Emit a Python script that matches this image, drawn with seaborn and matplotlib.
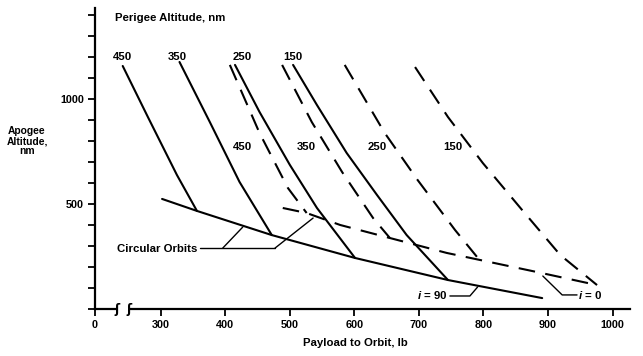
import numpy as np
import pandas as pd
import seaborn as sns
import matplotlib.pyplot as plt

# perigee curves, i = 90 (solid)
p450_solid_x = [241, 280, 325, 356]
p450_solid_y = [1157, 914, 638, 467]
p350_solid_x = [329, 376, 422, 472]
p350_solid_y = [1176, 890, 605, 352]
p250_solid_x = [415, 453, 500, 542, 601]
p250_solid_y = [1162, 938, 686, 481, 243]
p150_solid_x = [505, 542, 588, 635, 681, 745]
p150_solid_y = [1162, 971, 743, 543, 352, 138]
circ90_x = [302, 356, 472, 601, 745, 891]
circ90_y = [524, 467, 352, 243, 138, 52]

# perigee curves, i = 0 (dashed)
p450_dash_x = [407, 453, 497, 526]
p450_dash_y = [1162, 838, 576, 457]
p350_dash_x = [488, 534, 581, 629, 655]
p350_dash_y = [1162, 890, 652, 433, 338]
p250_dash_x = [585, 647, 698, 756, 790]
p250_dash_y = [1162, 838, 614, 376, 248]
p150_dash_x = [694, 745, 799, 860, 919, 976]
p150_dash_y = [1152, 914, 695, 471, 257, 114]
circ0_x = [489, 526, 578, 655, 743, 883, 976]
circ0_y = [481, 457, 400, 338, 267, 176, 114]

solid_labels = ["450", "350", "250", "150"]
solid_label_x = [240, 326, 426, 505]
dash_labels = ["450", "350", "250", "150"]
dash_label_x = [427, 526, 635, 753]

x_ticks = [198, 300, 400, 500, 600, 700, 800, 900, 1000]
x_ticklabels = ["0", "300", "400", "500", "600", "700", "800", "900", "1000"]
y_ticks = list(range(0, 1500, 100))
y_ticklabels = ["500" if v == 500 else "1000" if v == 1000 else "" for v in y_ticks]

sns.set_theme(style="ticks")
plt.rcParams['font.family'] = ['Liberation Sans', 'DejaVu Sans']
plt.rcParams['font.weight'] = 'bold'
plt.rcParams['text.color'] = 'black'
plt.rcParams['axes.labelcolor'] = 'black'
plt.rcParams['mathtext.fontset'] = 'custom'
plt.rcParams['mathtext.it'] = 'Liberation Sans:italic:bold'

fig = plt.figure(figsize=(6.43, 3.56), dpi=100)
ax = fig.add_axes([0.1477, 0.132, 0.832, 0.8455])

lw = 1.5
for xs, ys in [(p450_solid_x, p450_solid_y), (p350_solid_x, p350_solid_y),
               (p250_solid_x, p250_solid_y), (p150_solid_x, p150_solid_y),
               (circ90_x, circ90_y)]:
    sns.lineplot(x=xs, y=ys, ax=ax, color="black", lw=lw)

for xs, ys in [(p450_dash_x, p450_dash_y), (p350_dash_x, p350_dash_y),
               (p250_dash_x, p250_dash_y), (p150_dash_x, p150_dash_y),
               (circ0_x, circ0_y)]:
    sns.lineplot(x=xs, y=ys, ax=ax, color="black", lw=lw, linestyle=(0, (8, 5)))

ax.set_xlim(198, 1027)
ax.set_ylim(0, 1433)
ax.set_xticks(x_ticks)
ax.set_xticklabels(x_ticklabels)
ax.set_yticks(y_ticks)
ax.set_yticklabels(y_ticklabels)
ax.tick_params(axis="both", length=5, width=1.3, labelsize=7.8, color="black",
               labelcolor="black", pad=3)
for s in ["top", "right"]:
    ax.spines[s].set_visible(False)
for s in ["left", "bottom"]:
    ax.spines[s].set_linewidth(1.6)
    ax.spines[s].set_color("black")
ax.set_xlabel("")
ax.set_ylabel("")

fs = 8.2
ax.text(229, 1386, "Perigee Altitude, nm", fontsize=fs, ha="left", va="center")
for lab, x in zip(solid_labels, solid_label_x):
    ax.text(x, 1200, lab, fontsize=fs, ha="center", va="center")
for lab, x in zip(dash_labels, dash_label_x):
    ax.text(x, 771, lab, fontsize=fs, ha="center", va="center")

# leader annotations
ax.text(356, 286, "Circular Orbits", fontsize=fs, ha="right", va="center")
ax.plot([360, 477], [290, 290], color="black", lw=1)
ax.plot([396, 427], [290, 390], color="black", lw=1)
ax.plot([477, 536], [290, 433], color="black", lw=1)

ax.text(745, 67, r"$i$ = 90", fontsize=fs, ha="right", va="center")
ax.plot([748, 779, 791], [62, 62, 105], color="black", lw=1)
ax.text(946, 67, r"$i$ = 0", fontsize=fs, ha="left", va="center")
ax.plot([892, 922, 945], [157, 67, 67], color="black", lw=1)

# axis break on the x axis
ax.plot([235, 248], [0, 0], color="white", lw=3, clip_on=False, zorder=5)
for bx in [232, 250]:
    ax.text(bx, 0, "ʃ", fontsize=9, ha="center", va="center", zorder=6,
            family="DejaVu Sans")

fig.text(27 / 643, 1 - 141 / 356, "Apogee\nAltitude,\nnm", fontsize=7.4,
         ha="center", va="center", linespacing=0.95)
fig.text(355 / 643, 1 - 343 / 356, "Payload to Orbit, lb", fontsize=fs,
         ha="center", va="center")

fig.savefig("out.png", dpi=100)
